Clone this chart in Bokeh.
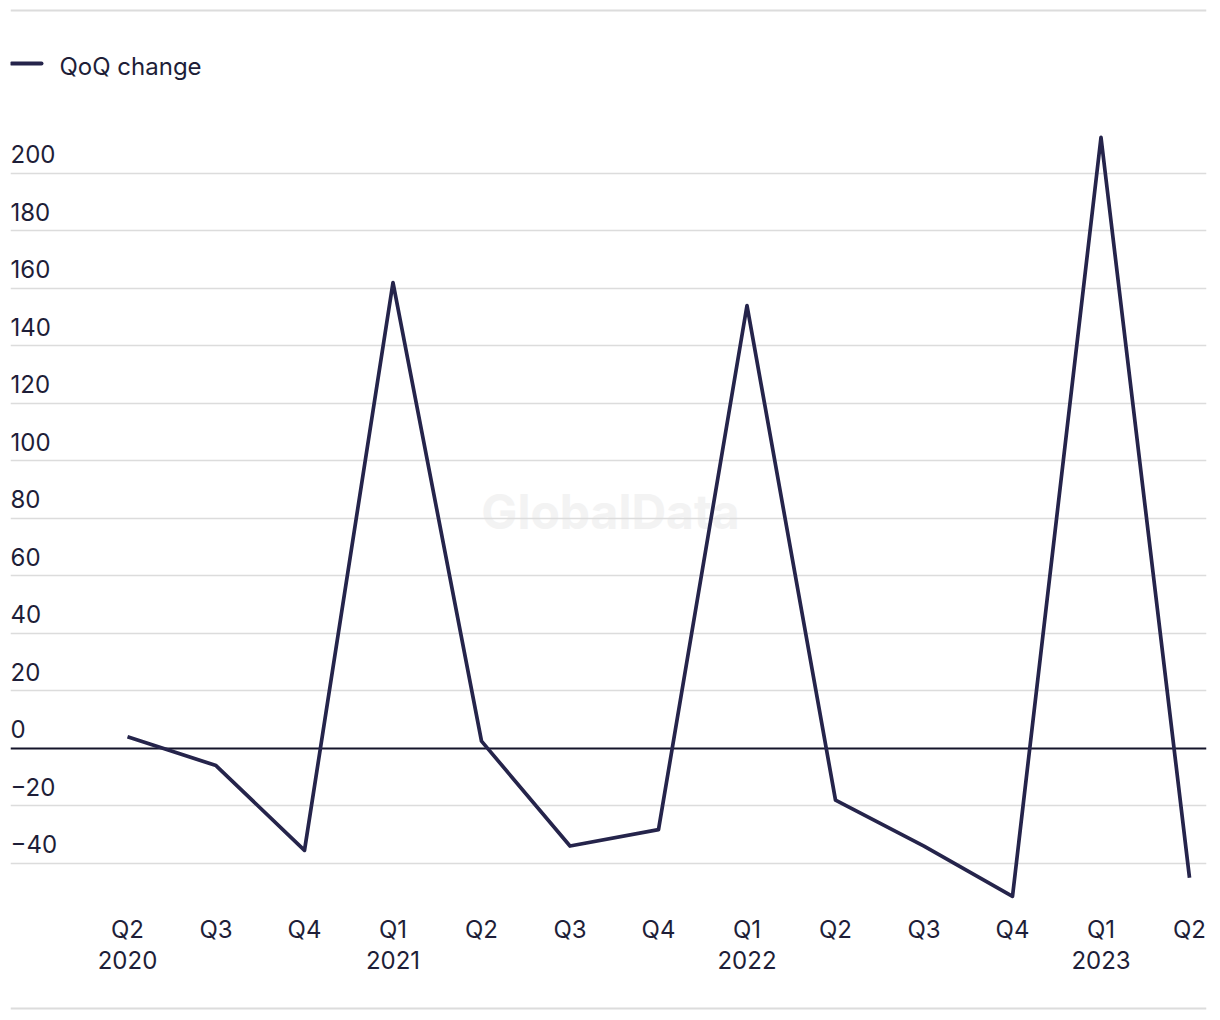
from bokeh.plotting import figure
from bokeh.models import Range1d
from bokeh.core.properties import value
from bokeh.embed import file_html
from bokeh.resources import INLINE

# ---- data ----
quarters = ["Q2", "Q3", "Q4", "Q1", "Q2", "Q3", "Q4", "Q1", "Q2", "Q3", "Q4", "Q1", "Q2"]
years = ["2020", "", "", "2021", "", "", "", "2022", "", "", "", "2023", ""]
qoq_change = [4, -6, -35.5, 162, 2.5, -34, -28.3, 154, -18, -34, -51.5, 212.5, -45]
y_ticks = [-40, -20, 0, 20, 40, 60, 80, 100, 120, 140, 160, 180, 200]
series_name = "QoQ change"

# ---- layout helpers (pixel geometry -> data space) ----
W, H = 1220, 1020
FL, FR = 10, 1206
X0_PX, DX_PX = 127, 88.5
ZERO_PX, PX_PER_UNIT = 747.8, 2.875
TXT_SHIFT = 9  # compensate renderer baseline offset

def xv(px):
    return (px - X0_PX) / DX_PX

def yv(py):
    return (ZERO_PX - py) / PX_PER_UNIT

FONT = value("Inter")
TEXT_COLOR = "#1e1e38"
LINE_COLOR = "#25244b"
GRID_COLOR = "#dcdcdc"
FS = "24px"

p = figure(width=W, height=H,
           x_range=Range1d(xv(FL), xv(FR)), y_range=Range1d(yv(H), yv(0)),
           x_axis_location=None, y_axis_location=None,
           min_border_left=FL, min_border_right=W - FR,
           min_border_top=0, min_border_bottom=0,
           output_backend="svg", toolbar_location=None,
           outline_line_color=None, background_fill_color="white",
           border_fill_color="white")
p.grid.visible = False

# watermark
p.text(x=[xv(610)], y=[yv(511)], text=["GlobalData"], text_font=FONT,
       text_font_style="bold", text_font_size="48px", text_color="#f3f3f3",
       text_align="center", text_baseline="middle")

# separators top/bottom
p.hspan(y=[yv(10), yv(1008)], line_color=GRID_COLOR, line_width=2)

# gridlines
grid_ticks = [t for t in y_ticks if t != 0]
p.hspan(y=grid_ticks, line_color=GRID_COLOR, line_width=1.6)
p.hspan(y=[0], line_color="#14142a", line_width=1.8)

# y tick labels (inside, above gridlines)
p.text(x=[xv(FL)] * len(y_ticks), y=y_ticks,
       text=[str(t) if t >= 0 else "\u2212" + str(-t) for t in y_ticks],
       text_font=FONT, text_font_size=FS, text_color=TEXT_COLOR,
       text_align="left", text_baseline="alphabetic", y_offset=-(10 + TXT_SHIFT))

# x tick labels
idx = list(range(len(qoq_change)))
p.text(x=idx, y=[yv(938 - TXT_SHIFT)] * len(idx), text=quarters, text_font=FONT,
       text_font_size=FS, text_color=TEXT_COLOR,
       text_align="center", text_baseline="alphabetic")
p.text(x=idx, y=[yv(968 - TXT_SHIFT)] * len(idx), text=years, text_font=FONT,
       text_font_size=FS, text_color=TEXT_COLOR,
       text_align="center", text_baseline="alphabetic")

# data line
p.line(x=idx, y=qoq_change, line_color=LINE_COLOR, line_width=3.7,
       line_join="round")

# legend
p.segment(x0=[xv(11)], y0=[yv(63)], x1=[xv(41)], y1=[yv(63)],
          line_color=LINE_COLOR, line_width=4, line_cap="round")
p.text(x=[xv(59)], y=[yv(75 - TXT_SHIFT)], text=[series_name], text_font=FONT,
       text_font_size=FS, text_color=TEXT_COLOR,
       text_align="left", text_baseline="alphabetic")

open("out.html", "w").write(file_html(p, INLINE))
